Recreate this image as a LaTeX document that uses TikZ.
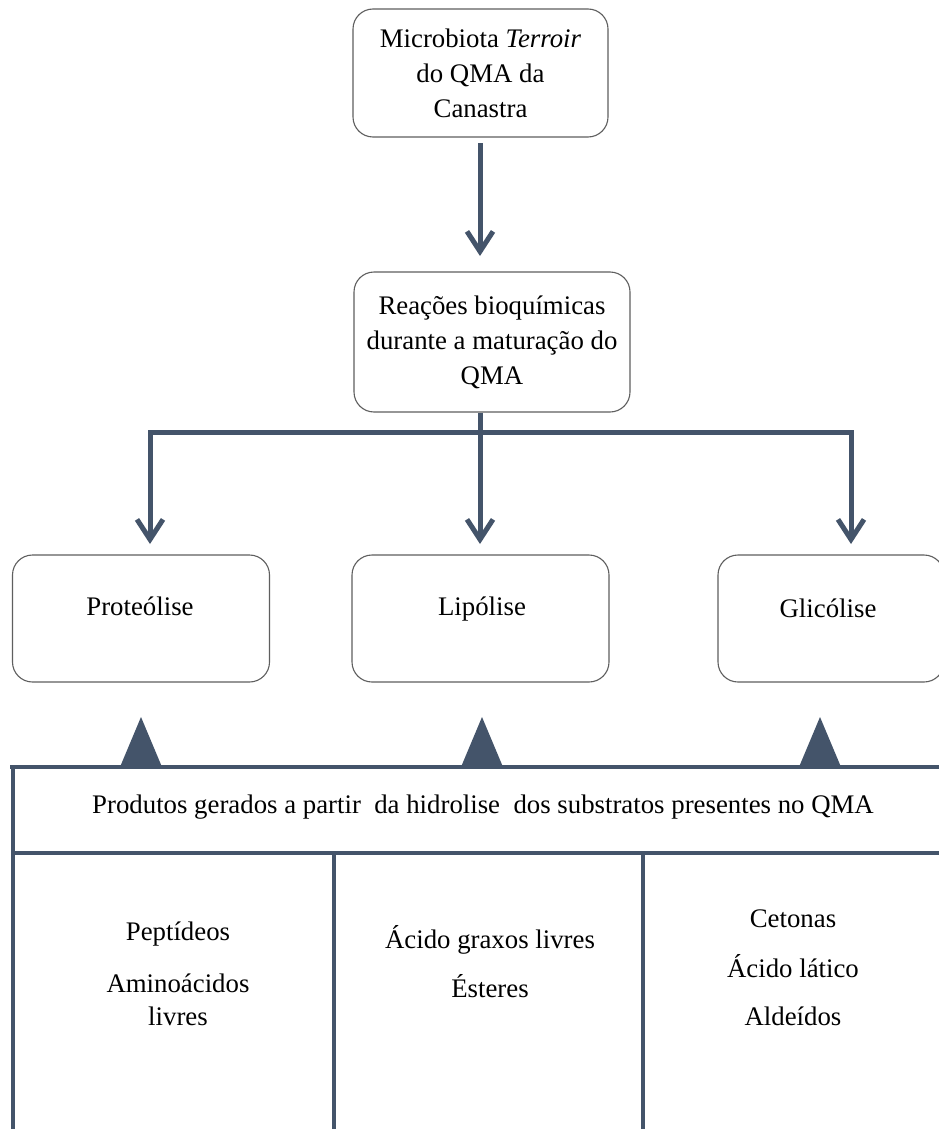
\documentclass[tikz,border=0pt]{standalone}
\usepackage{fontspec}
\setmainfont{Liberation Serif}
\usetikzlibrary{arrows.meta}
\definecolor{slate}{HTML}{44546A}
\definecolor{boxgray}{HTML}{5F5F5F}
\begin{document}
\begin{tikzpicture}[x=1pt,y=-1pt,
  rbox/.style={draw=boxgray, line width=1.1pt, rounded corners=20pt, align=center, inner sep=0pt,
    font=\fontsize{26.8}{35}\selectfont},
  txt/.style={font=\fontsize{26.8}{35}\selectfont, inner sep=0pt, anchor=base},
  conn/.style={draw=slate, line width=5pt},
  arr/.style={conn, -{Straight Barb[length=20pt,width=26pt,line width=5pt]}},
  tri/.style={fill=slate, draw=none},
  tline/.style={draw=slate, line width=4.5pt}]
\clip (0,0) rectangle (939,1129);
\fill[white] (0,0) rectangle (939,1129);

% top boxes
\node[rbox, minimum width=255pt, minimum height=128pt] (micro) at (480.5,73) {Microbiota \textit{Terroir}\\do QMA da\\Canastra};
\node[rbox, minimum width=276pt, minimum height=140pt] (reac) at (492,342) {Reações bioquímicas\\durante a maturação do\\QMA};

\coordinate (a1s) at (480,143);
\coordinate (a1e) at (480,256);
\draw[arr] (a1s) -- (a1e);

% branch
\coordinate (bl) at (150,432);
\coordinate (bm) at (480,432);
\coordinate (br) at (851,432);
\draw[conn] (reac.south -| bm) -- (bm);
\draw[conn, line cap=rect] (bl) -- (br);
\coordinate (tl) at (150,544);
\coordinate (tm) at (480,544);
\coordinate (tr) at (851,544);
\draw[arr] (bl) -- (tl);
\draw[arr] (bm) -- (tm);
\draw[arr] (br) -- (tr);

% process boxes
\node[rbox, minimum width=257pt, minimum height=127pt] (prot) at (141,618.5) {};
\node[rbox, minimum width=257pt, minimum height=127pt] (lipo) at (480.5,618.5) {};
\node[rbox, minimum width=226pt, minimum height=127pt] (glic) at (831,618.5) {};
\node[txt] (protT) at (140,615) {Proteólise};
\node[txt] (lipoT) at (482,615) {Lipólise};
\node[txt] (glicT) at (828,617) {Glicólise};

% triangles
\fill[tri] (141,717) -- (162,767) -- (120,767) -- cycle;
\fill[tri] (482,717) -- (503,767) -- (461,767) -- cycle;
\fill[tri] (820,717) -- (841,767) -- (799,767) -- cycle;

% table
\draw[tline] (10,767) -- (950,767);
\draw[tline] (13,765) -- (13,1135);
\draw[tline] (11,853) -- (950,853);
\draw[tline] (334,853) -- (334,1135);
\draw[tline] (643,853) -- (643,1135);

\node[txt] (prod) at (483,813) {Produtos gerados a partir\ \ da hidrolise\ \ dos substratos presentes no QMA};

\node[txt] (pep) at (178,940) {Peptídeos};
\node[txt] (amino) at (178,992) {Aminoácidos};
\node[txt] (livr) at (178,1025) {livres};

\node[txt] (acg) at (490,948) {Ácido graxos livres};
\node[txt] (est) at (490,997) {Ésteres};

\node[txt] (cet) at (793,927) {Cetonas};
\node[txt] (acl) at (793,977) {Ácido lático};
\node[txt] (ald) at (793,1025) {Aldeídos};
\end{tikzpicture}
\end{document}
